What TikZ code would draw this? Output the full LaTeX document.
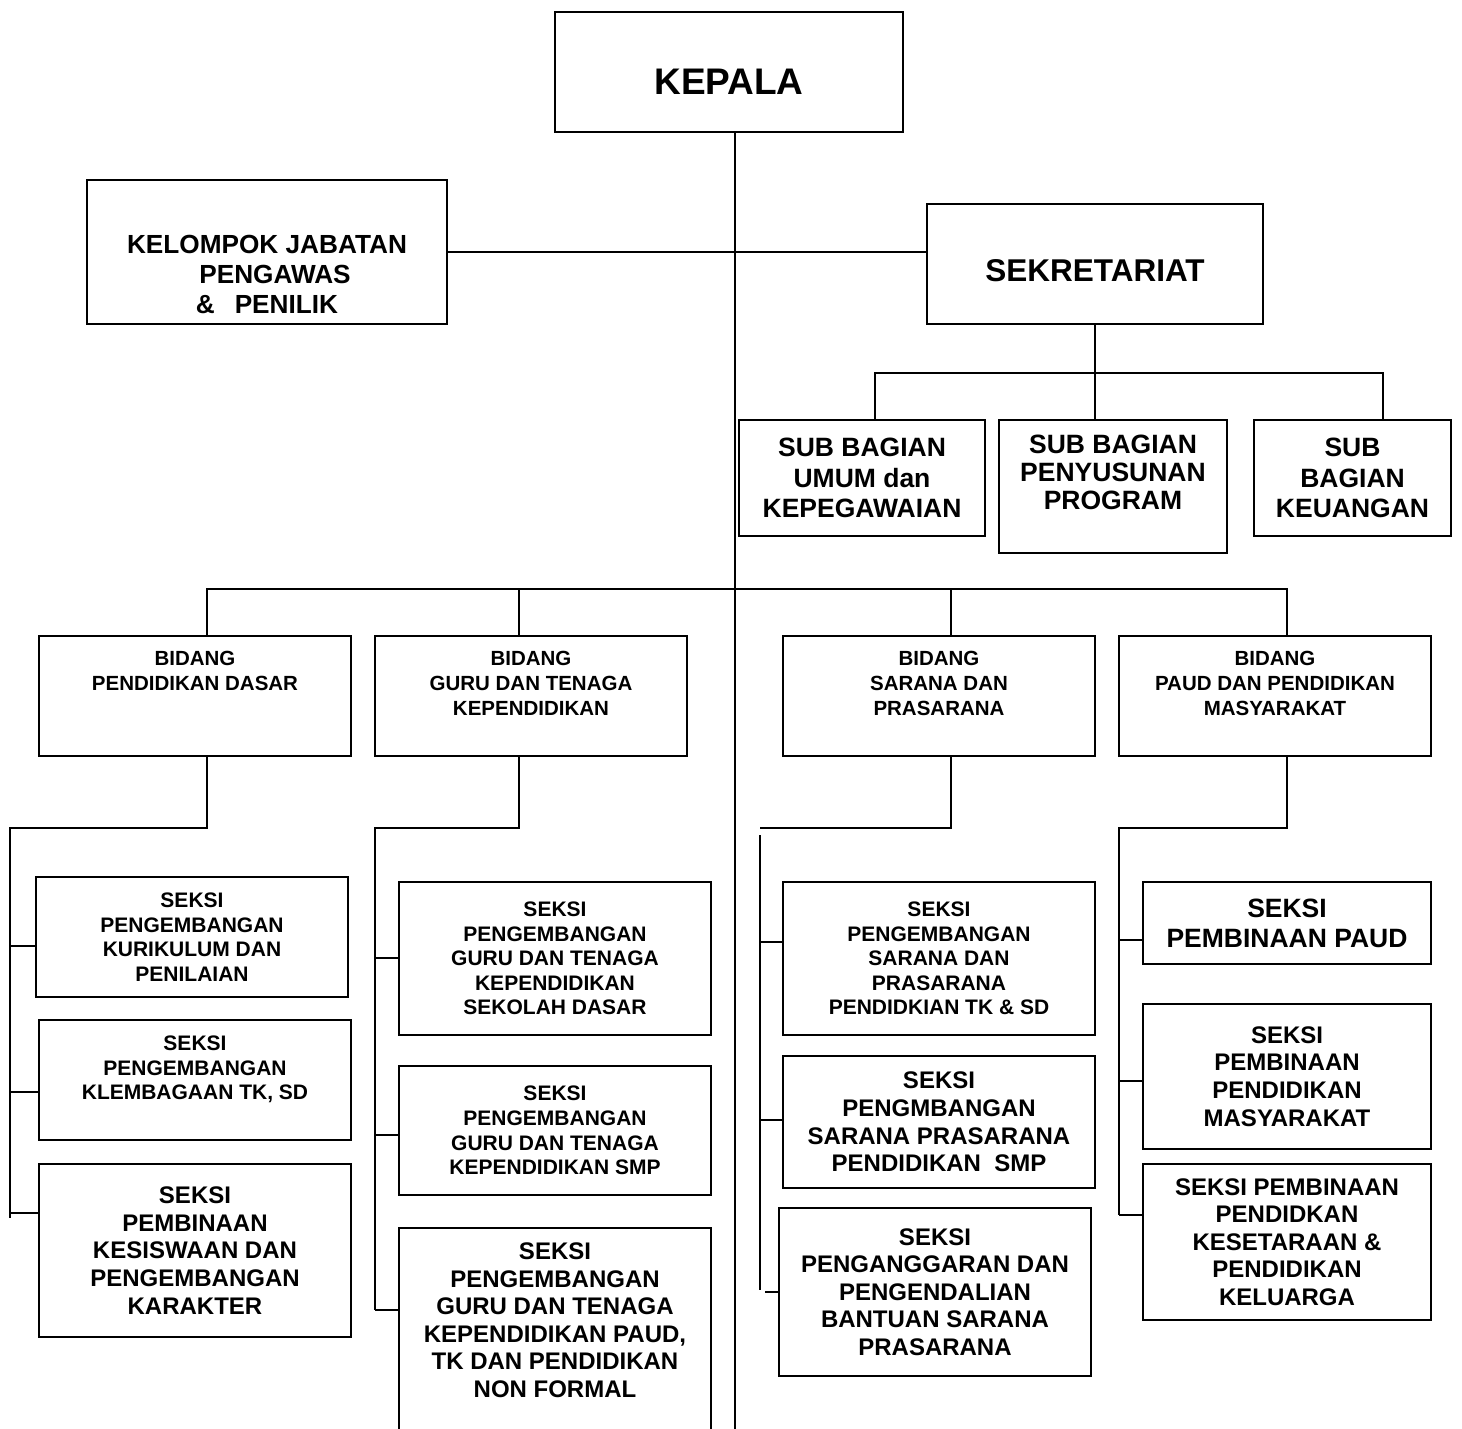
\documentclass[tikz,border=0pt]{standalone}
\usepackage{fontspec}
\setmainfont{Liberation Sans}
\newcommand{\fsz}[2]{\fontsize{#1}{#2}\selectfont}
\tikzset{
  box/.style={draw, align=center, inner sep=2pt},
  bidang/.style={box, minimum width=312pt, minimum height=120pt, font=\bfseries\fsz{20.5}{25}},
  seksi/.style={box, minimum width=312pt, font=\bfseries\fsz{21}{24.6}},
  seksibig/.style={box, minimum width=312pt, font=\bfseries\fsz{24}{27.6}},
  subbag/.style={box, minimum height=116pt, font=\bfseries\fsz{26.5}{30.5}},
}
\begin{document}
\begin{tikzpicture}[x=1pt, y=-1pt, line width=1.8pt]
\useasboundingbox (0,0) rectangle (1462,1429);
\clip (0,0) rectangle (1462,1429);

% pimpinan
\node[box, minimum width=348pt, minimum height=120pt, text height=44.5pt, font=\bfseries\fsz{37}{44}] (kepala) at (729,72) {KEPALA};
\node[box, minimum width=360pt, minimum height=144pt] (kel) at (267,252) {};
\node[align=center, font=\bfseries\fsz{26.2}{30}] (keltext) at (267,274) {KELOMPOK JABATAN\\\hspace*{16pt}PENGAWAS\\\&\hspace{20pt}PENILIK};
\node[box, minimum width=336pt, minimum height=120pt, text height=34.5pt, font=\bfseries\fsz{31.5}{36}] (sek) at (1095,264) {SEKRETARIAT};

% sub bagian
\node[subbag, minimum width=246pt] (sub1) at (862,478) {SUB BAGIAN\\UMUM dan\\KEPEGAWAIAN};
\node[subbag, minimum width=228pt, minimum height=133pt, font=\bfseries\fsz{26.5}{28}] (sub2) at (1113,486.5) {SUB BAGIAN\\PENYUSUNAN\\PROGRAM\\~};
\node[subbag, minimum width=197pt] (sub3) at (1352.5,478) {SUB\\BAGIAN\\KEUANGAN};

% bidang
\node[bidang] (bid1) at (195,696) {BIDANG\\PENDIDIKAN DASAR\\~\\~};
\node[bidang] (bid2) at (531,696) {BIDANG\\GURU DAN TENAGA\\KEPENDIDIKAN\\~};
\node[bidang] (bid3) at (939,696) {BIDANG\\SARANA DAN\\PRASARANA\\~};
\node[bidang] (bid4) at (1275,696) {BIDANG\\PAUD DAN PENDIDIKAN\\MASYARAKAT\\~};

% seksi
\node[seksi, minimum height=120pt] (s1a) at (192,937) {SEKSI\\PENGEMBANGAN\\KURIKULUM DAN\\PENILAIAN};
\node[seksi, minimum height=120pt] (s1b) at (195,1080) {SEKSI\\PENGEMBANGAN\\KLEMBAGAAN TK, SD\\~};
\node[seksibig, minimum height=173pt] (s1c) at (195,1250.5) {SEKSI\\PEMBINAAN\\KESISWAAN DAN\\PENGEMBANGAN\\KARAKTER};

\node[seksi, minimum height=153pt] (s2a) at (555,958.5) {SEKSI\\PENGEMBANGAN\\GURU DAN TENAGA\\KEPENDIDIKAN\\SEKOLAH DASAR};
\node[seksi, minimum height=129pt] (s2b) at (555,1130.5) {SEKSI\\PENGEMBANGAN\\GURU DAN TENAGA\\KEPENDIDIKAN SMP};
\node[seksibig, minimum height=212pt] (s2c) at (555,1334) {SEKSI\\PENGEMBANGAN\\GURU DAN TENAGA\\KEPENDIDIKAN PAUD,\\TK DAN PENDIDIKAN\\NON FORMAL\\~};

\node[seksi, minimum height=153pt] (s3a) at (939,958.5) {SEKSI\\PENGEMBANGAN\\SARANA DAN\\PRASARANA\\PENDIDKIAN TK \& SD};
\node[seksibig, minimum height=132pt] (s3b) at (939,1122) {SEKSI\\PENGMBANGAN\\SARANA PRASARANA\\PENDIDIKAN\ \ SMP};
\node[seksibig, minimum height=168pt] (s3c) at (935,1292) {SEKSI\\PENGANGGARAN DAN\\PENGENDALIAN\\BANTUAN SARANA\\PRASARANA};

\node[box, minimum width=288pt, minimum height=82pt, font=\bfseries\fsz{26.5}{30}] (s4a) at (1287,923) {SEKSI\\PEMBINAAN PAUD};
\node[seksibig, minimum width=288pt, minimum height=145pt] (s4b) at (1287,1076.5) {SEKSI\\PEMBINAAN\\PENDIDIKAN\\MASYARAKAT};
\node[seksibig, minimum width=288pt, minimum height=156pt] (s4c) at (1287,1242) {SEKSI PEMBINAAN\\PENDIDKAN\\KESETARAAN \&\\PENDIDIKAN\\KELUARGA};

% garis
\coordinate (spine) at (735,1440);
\draw (kepala.south -| spine) -- (spine);
\draw (kel.east) -- (kel.east -| sek.west);

\coordinate (sbusL) at (875,373);
\coordinate (sbusR) at (1383,373);
\draw (sek.south) -- (sek.south |- sub2.north);
\draw (sbusL |- sub1.north) -- (sbusL) -- (sbusR) -- (sbusR |- sub3.north);

\coordinate (busL) at (207,589);
\coordinate (busR) at (1287,589);
\coordinate (drop2) at (519,589);
\coordinate (drop3) at (951,589);
\draw (busL |- bid1.north) -- (busL) -- (busR) -- (busR |- bid4.north);
\draw (drop2) -- (drop2 |- bid2.north);
\draw (drop3) -- (drop3 |- bid3.north);

\coordinate (col1) at (10,828);
\coordinate (col2) at (375,828);
\coordinate (col3) at (760,828);
\coordinate (col4) at (1119,828);
\draw (bid1.south -| busL) -- (busL |- col1) -- (col1) -- (col1 |- 0,1218);
\draw (bid2.south -| drop2) -- (drop2 |- col2) -- (col2) -- (col2 |- 0,1310);
\draw (bid3.south -| drop3) -- (drop3 |- col3) -- (col3);
\draw (col3 |- 0,835) -- (col3 |- 0,1290);
\draw (bid4.south -| busR) -- (busR |- col4) -- (col4) -- (col4 |- 0,1215);

\foreach \n/\y in {s1a/946, s1b/1092, s1c/1213}
  \draw (col1 |- 0,\y) -- (\n.west |- 0,\y);
\foreach \n/\y in {s2a/958, s2b/1135, s2c/1310}
  \draw (col2 |- 0,\y) -- (\n.west |- 0,\y);
\foreach \n/\y in {s3a/942, s3b/1120}
  \draw (col3 |- 0,\y) -- (\n.west |- 0,\y);
\coordinate (t3c) at (765,1292);
\draw (t3c) -- (t3c -| s3c.west);
\foreach \n/\y in {s4a/940, s4b/1081, s4c/1215}
  \draw (col4 |- 0,\y) -- (\n.west |- 0,\y);
\end{tikzpicture}
\end{document}
